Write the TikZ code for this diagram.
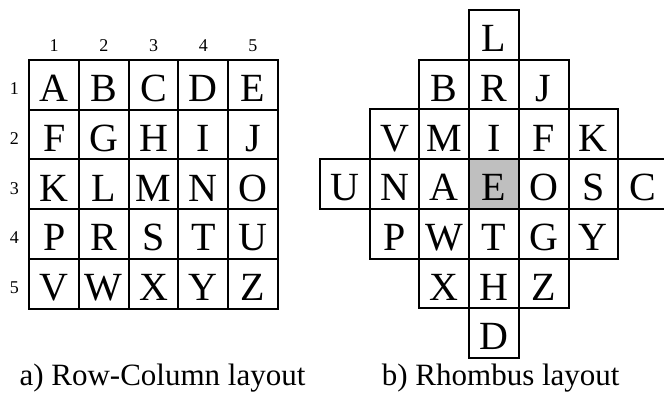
\documentclass[tikz,border=0pt]{standalone}
\usepackage{fontspec}
\setmainfont{Liberation Serif}
\begin{document}
\begin{tikzpicture}[x=1pt,y=-1pt,
  cell/.style={draw, line width=2pt, minimum width=49.7pt, minimum height=49.7pt,
    inner sep=0pt, text height=33.8pt, text depth=0pt,
    font=\fontsize{40}{40}\selectfont},
  hot/.style={cell, fill=black!25},
  idx/.style={inner sep=0pt, anchor=base, font=\fontsize{18}{18}\selectfont},
  captext/.style={inner sep=0pt, anchor=base west, font=\fontsize{31}{31}\selectfont}]
\useasboundingbox (0,0) rectangle (664,393);
\def\cs{49.7}
% ---- a) Row-Column layout ----
\def\lx{29.3}\def\ly{60}
\foreach \row/\letters [count=\r from 0] in {1/{A,B,C,D,E},2/{F,G,H,I,J},3/{K,L,M,N,O},4/{P,R,S,T,U},5/{V,W,X,Y,Z}}{
  \foreach \t [count=\c from 0] in \letters {
    \node[cell] (l-\r-\c) at ({\lx+\cs*(\c+0.5)},{\ly+\cs*(\r+0.5)}) {\t};
  }
  \node[idx] (rowlab-\r) at (14.4,{\ly+\cs*(\r+0.5)+10}) {\row};
  \node[idx] (collab-\r) at ({\lx+\cs*(\r+0.5)},51.7) {\row};
}
% ---- b) Rhombus layout ----
\def\rx{320}\def\ry{10}
\foreach \t/\r/\c in {L/0/3,
  B/1/2,R/1/3,J/1/4,
  V/2/1,M/2/2,I/2/3,F/2/4,K/2/5,
  U/3/0,N/3/1,A/3/2,O/3/4,S/3/5,C/3/6,
  P/4/1,W/4/2,T/4/3,G/4/4,Y/4/5,
  X/5/2,H/5/3,Z/5/4,
  D/6/3}{
  \node[cell] (r-\r-\c) at ({\rx+\cs*(\c+0.5)},{\ry+\cs*(\r+0.5)}) {\t};
}
\node[hot] (r-3-3) at ({\rx+\cs*3.5},{\ry+\cs*3.5}) {E};
% ---- captions ----
\node[captext] (capa) at (19.4,385) {a) Row-Column layout};
\node[captext] (capb) at (381.7,385) {b) Rhombus layout};
\end{tikzpicture}
\end{document}
